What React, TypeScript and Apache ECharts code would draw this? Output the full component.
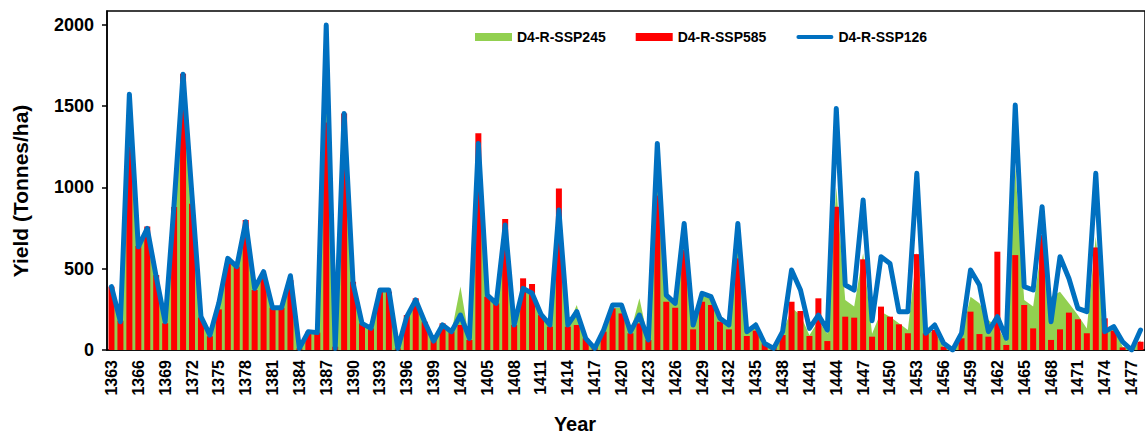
import React, { useEffect, useRef } from "react";
import * as echarts from "echarts";

const FONT = '"Liberation Sans", Arial, sans-serif';

const years = [
  "1363", "1364", "1365", "1366", "1367", "1368", "1369", "1370", "1371", "1372",
  "1373", "1374", "1375", "1376", "1377", "1378", "1379", "1380", "1381", "1382",
  "1383", "1384", "1385", "1386", "1387", "1388", "1389", "1390", "1391", "1392",
  "1393", "1394", "1395", "1396", "1397", "1398", "1399", "1400", "1401", "1402",
  "1403", "1404", "1405", "1406", "1407", "1408", "1409", "1410", "1411", "1412",
  "1413", "1414", "1415", "1416", "1417", "1418", "1419", "1420", "1421", "1422",
  "1423", "1424", "1425", "1426", "1427", "1428", "1429", "1430", "1431", "1432",
  "1433", "1434", "1435", "1436", "1437", "1438", "1439", "1440", "1441", "1442",
  "1443", "1444", "1445", "1446", "1447", "1448", "1449", "1450", "1451", "1452",
  "1453", "1454", "1455", "1456", "1457", "1458", "1459", "1460", "1461", "1462",
  "1463", "1464", "1465", "1466", "1467", "1468", "1469", "1470", "1471", "1472",
  "1473", "1474", "1475", "1476", "1477", "1478",
];

const ssp245 = [
  380, 170, 1300, 620, 740, 450, 170, 870, 1650, 900,
  200, 85, 250, 540, 510, 760, 370, 450, 255, 255,
  430, 10, 110, 105, 1900, 250, 1400, 400, 160, 130,
  360, 360, 10, 210, 310, 170, 60, 160, 110, 390,
  60, 1200, 330, 280, 750, 150, 380, 350, 220, 150,
  850, 150, 277, 70, 15, 110, 260, 260, 110, 318,
  60, 1200, 330, 280, 750, 150, 330, 320, 190, 150,
  760, 110, 174, 40, 10, 100, 260, 215, 90, 180,
  100, 1000, 307, 267, 595, 100, 236, 205, 164, 123,
  600, 113, 110, 20, 5, 92, 328, 287, 185, 140,
  50, 1127, 307, 267, 656, 328, 359, 287, 215, 133,
  697, 113, 140, 20, 5, 60,
];

const ssp585 = [
  390, 180, 1250, 640, 760, 461, 165, 880, 1700, 900,
  200, 85, 250, 533, 513, 800, 369, 451, 260, 260,
  430, 10, 113, 107, 1400, 20, 1456, 420, 164, 133,
  359, 359, 10, 215, 318, 174, 62, 164, 113, 154,
  62, 1333, 328, 287, 806, 154, 441, 406, 215, 144,
  994, 144, 154, 72, 20, 113, 256, 225, 103, 164,
  62, 950, 297, 260, 615, 127, 297, 277, 174, 127,
  564, 86, 119, 41, 20, 92, 297, 240, 86, 318,
  55, 881, 205, 199, 558, 82, 267, 205, 158, 103,
  590, 103, 123, 20, 4, 72, 236, 98, 82, 605,
  31, 584, 277, 133, 707, 62, 127, 230, 189, 103,
  631, 195, 119, 16, 4, 51,
];

const ssp126 = [
  390, 174, 1574, 635, 748, 450, 174, 900, 1697, 950,
  205, 92, 290, 564, 513, 789, 379, 482, 260, 260,
  457, 10, 113, 107, 2000, 10, 1456, 410, 164, 133,
  369, 369, 10, 205, 308, 174, 55, 154, 113, 215,
  72, 1271, 338, 287, 769, 154, 379, 349, 220, 154,
  861, 154, 236, 72, 10, 123, 277, 277, 113, 215,
  62, 1271, 338, 287, 779, 154, 349, 328, 195, 154,
  779, 113, 154, 40, 10, 113, 492, 369, 133, 215,
  123, 1486, 400, 369, 923, 180, 574, 533, 236, 236,
  1087, 103, 154, 41, 0, 103, 492, 400, 113, 205,
  72, 1507, 390, 369, 882, 174, 574, 440, 256, 236,
  1087, 113, 144, 51, 0, 123,
];

const yTicks = [0, 500, 1000, 1500, 2000];

const NAME_245 = "D4-R-SSP245";
const NAME_585 = "D4-R-SSP585";
const NAME_126 = "D4-R-SSP126";

export default function App() {
  const ref = useRef<HTMLDivElement>(null);

  useEffect(() => {
    const chart = echarts.init(ref.current!, null, { renderer: "svg" });
    const axisLine = { color: "#000", width: 1.5 };
    chart.setOption({
      animation: false,
      backgroundColor: "#fff",
      textStyle: { fontFamily: FONT },
      legend: {
        left: 470,
        top: 25,
        itemWidth: 37,
        itemHeight: 8,
        itemGap: 30,
        textStyle: { fontSize: 14, fontWeight: "bold", color: "#000", fontFamily: FONT },
        data: [
          { name: NAME_245, icon: "rect" },
          { name: NAME_585, icon: "rect" },
          { name: NAME_126, icon: "path://M2,0 L35,0 A2,2 0 0 1 35,4 L2,4 A2,2 0 0 1 2,0 Z" },
        ],
      },
      grid: {
        left: 107,
        top: 11,
        width: 1044,
        height: 339,
        show: true,
        borderColor: "#000",
        borderWidth: 1.5,
        backgroundColor: "transparent",
      },
      xAxis: {
        type: "category",
        data: years,
        boundaryGap: true,
        axisLine: { lineStyle: axisLine },
        axisTick: { interval: 0, length: 4, lineStyle: axisLine },
        axisLabel: {
          interval: 2,
          rotate: 90,
          fontSize: 16,
          fontWeight: "bold",
          color: "#000",
          margin: 10,
          fontFamily: FONT,
        },
      },
      yAxis: {
        type: "value",
        min: 0,
        max: 2086,
        interval: 500,
        splitLine: { show: false },
        axisLine: { show: true, lineStyle: axisLine },
        axisTick: { show: true, length: 5, customValues: yTicks, lineStyle: axisLine },
        axisLabel: {
          customValues: yTicks,
          formatter: (v: number) => String(v),
          fontSize: 18,
          fontWeight: "bold",
          color: "#000",
          margin: 13,
          fontFamily: FONT,
        },
      },
      series: [
        {
          name: NAME_245,
          type: "line",
          data: ssp245,
          symbol: "none",
          lineStyle: { width: 0, color: "#92D050" },
          itemStyle: { color: "#92D050" },
          areaStyle: { color: "#92D050", opacity: 1 },
          z: 1,
        },
        {
          name: NAME_585,
          type: "bar",
          data: ssp585,
          barWidth: 6,
          itemStyle: { color: "#FF0000" },
          z: 2,
        },
        {
          name: NAME_126,
          type: "line",
          data: ssp126,
          symbol: "none",
          lineStyle: { width: 5, color: "#0070C0", join: "round", cap: "round" },
          itemStyle: { color: "#0070C0" },
          z: 3,
        },
      ],
      graphic: [
        {
          type: "text",
          x: 20,
          y: 191,
          rotation: Math.PI / 2,
          style: {
            text: "Yield (Tonnes/ha)",
            fontSize: 21,
            fontWeight: "bold",
            fontFamily: FONT,
            fill: "#000",
            align: "center",
            verticalAlign: "middle",
          },
        },
        {
          type: "text",
          x: 575,
          y: 424,
          style: {
            text: "Year",
            fontSize: 20,
            fontWeight: "bold",
            fontFamily: FONT,
            fill: "#000",
            align: "center",
            verticalAlign: "middle",
          },
        },
      ],
    });
    return () => chart.dispose();
  }, []);

  return (
    <div
      ref={ref}
      style={{ position: "absolute", left: 0, top: 0, width: 1145, height: 436, background: "#fff" }}
    />
  );
}
